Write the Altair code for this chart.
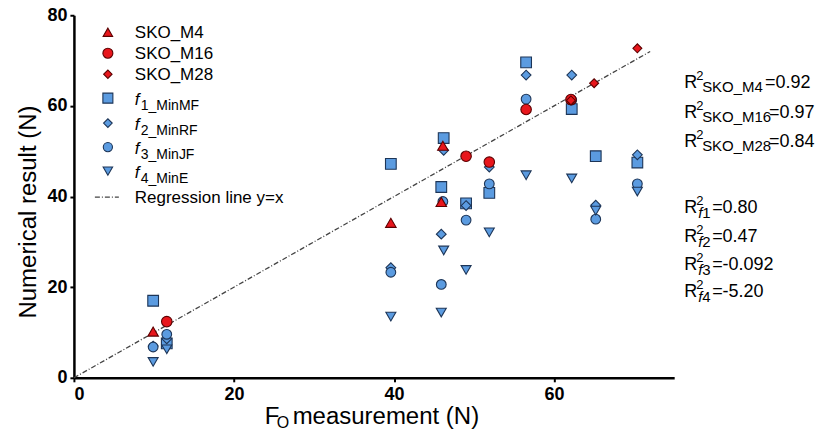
import altair as alt
import pandas as pd

# ---------------- data ----------------
sko_m4_x = [9.9, 39.6, 46.1, 45.9]
sko_m4_y = [10.2, 34.2, 51.2, 38.8]
sko_m16_x = [11.6, 49.0, 51.9, 56.5, 62.1]
sko_m16_y = [12.4, 48.9, 47.6, 59.2, 61.4]
sko_m28_x = [62.1, 65.0, 70.4]
sko_m28_y = [61.2, 65.0, 72.7]
f1_x = [9.9, 11.6, 39.6, 46.2, 45.9, 49.0, 51.9, 56.5, 62.2, 65.2, 70.4]
f1_y = [17.0, 7.6, 47.2, 52.9, 42.1, 38.5, 40.8, 69.6, 59.3, 48.9, 47.5]
f2_x = [9.9, 11.6, 39.6, 46.2, 45.9, 49.0, 51.9, 56.5, 62.2, 65.2, 70.4]
f2_y = [7.0, 8.6, 24.3, 50.2, 31.7, 38.0, 46.5, 66.8, 66.8, 38.1, 49.2]
f3_x = [9.9, 11.6, 39.6, 46.1, 45.9, 49.0, 51.9, 56.5, 62.2, 65.2, 70.4]
f3_y = [6.8, 9.6, 23.3, 38.9, 20.6, 34.8, 42.8, 61.5, 61.3, 35.0, 42.8]
f4_x = [9.9, 11.6, 39.6, 46.2, 45.9, 49.0, 51.9, 56.5, 62.2, 65.2, 70.4]
f4_y = [3.5, 6.3, 13.5, 28.1, 14.4, 23.8, 32.1, 44.7, 44.0, 36.9, 41.1]
reg_x = [0, 72]
x_ticks = [0, 20, 40, 60]
y_ticks = [0, 20, 40, 60, 80]

legend_names = ["SKO_M4", "SKO_M16", "SKO_M28"]
legend_f_main = ["f", "f", "f", "f"]
legend_f_sub = ["1_MinMF", "2_MinRF", "3_MinJF", "4_MinE"]
reg_label = "Regression line y=x"
r2_sko_sub = ["SKO_M4", "SKO_M16", "SKO_M28"]
r2_sko_val = ["=0.92", "=0.97", "=0.84"]
r2_f_sub = ["f1", "f2", "f3", "f4"]
r2_f_val = ["=0.80", "=0.47", "=-0.092", "=-5.20"]

# ---------------- styling ----------------
FONT = "Liberation Sans"
RED, RED_S = "#e8161c", "#5c0000"
BLUE, BLUE_S = "#5b9be0", "#1d3557"
PX, PY = 74, 15            # page position of the plot origin
W, H = 601, 363

xs = alt.Scale(domain=[0, 75], nice=False)
ys = alt.Scale(domain=[0, 80], nice=False)


def series(xv, yv, shape, fill, stroke, size):
    df = pd.DataFrame({"x": xv, "y": yv})
    return alt.Chart(df).mark_point(
        shape=shape, filled=True, fill=fill, stroke=stroke, strokeWidth=1.1,
        size=size, opacity=1, fillOpacity=1,
    ).encode(
        x=alt.X("x:Q", scale=xs, axis=alt.Axis(values=x_ticks, title=None)),
        y=alt.Y("y:Q", scale=ys, axis=alt.Axis(values=y_ticks, title=None)),
    )


def txt(s, px, py, size, italic=False, align="left", angle=0, baseline="alphabetic"):
    return alt.Chart(pd.DataFrame({"t": [s]})).mark_text(
        font=FONT, fontSize=size, fontStyle="italic" if italic else "normal",
        align=align, baseline=baseline, angle=angle, color="black",
    ).encode(x=alt.value(px - PX), y=alt.value(py - PY), text="t:N")


def sym(shape, fill, stroke, size, px, py):
    return alt.Chart(pd.DataFrame({"t": [0]})).mark_point(
        shape=shape, filled=True, fill=fill, stroke=stroke, strokeWidth=1.1,
        size=size, opacity=1,
    ).encode(x=alt.value(px - PX), y=alt.value(py - PY))


layers = []

# regression line y = x
reg = alt.Chart(pd.DataFrame({"x": reg_x, "y": reg_x})).mark_line(
    color="#444444", strokeWidth=1.3, strokeDash=[5, 2, 1, 2]
).encode(x=alt.X("x:Q", scale=xs), y=alt.Y("y:Q", scale=ys))
layers.append(reg)

layers.append(series(f1_x, f1_y, "square", BLUE, BLUE_S, 115))
layers.append(series(f2_x, f2_y, "diamond", BLUE, BLUE_S, 95))
layers.append(series(f3_x, f3_y, "circle", BLUE, BLUE_S, 95))
layers.append(series(f4_x, f4_y, "triangle-down", BLUE, BLUE_S, 100))
layers.append(series(sko_m4_x, sko_m4_y, "triangle-up", RED, RED_S, 110))
layers.append(series(sko_m16_x, sko_m16_y, "circle", RED, RED_S, 110))
layers.append(series(sko_m28_x, sko_m28_y, "diamond", RED, RED_S, 80))

# ---------------- custom legend ----------------
rows = [32, 53, 74, 98, 123, 147, 171, 197]
sym_x, lab_x = 108, 135
leg_shapes = [("triangle-up", RED, RED_S, 90), ("circle", RED, RED_S, 100),
              ("diamond", RED, RED_S, 70), ("square", BLUE, BLUE_S, 100),
              ("diamond", BLUE, BLUE_S, 75), ("circle", BLUE, BLUE_S, 85),
              ("triangle-down", BLUE, BLUE_S, 90)]
for i, (shp, fc, sc, sz) in enumerate(leg_shapes):
    layers.append(sym(shp, fc, sc, sz, sym_x, rows[i]))
for i, name in enumerate(legend_names):
    layers.append(txt(name, lab_x, rows[i] + 6, 17))
for j in range(4):
    r = rows[3 + j]
    layers.append(txt(legend_f_main[j], lab_x, r + 7, 17, italic=True))
    layers.append(txt(legend_f_sub[j], lab_x + 6, r + 12, 14))
layers.append(
    alt.Chart(pd.DataFrame({"t": [0]})).mark_rule(
        color="#444444", strokeWidth=1.3, strokeDash=[5, 2, 1, 2]
    ).encode(x=alt.value(95 - PX), x2=alt.value(119 - PX), y=alt.value(rows[7] - PY))
)
layers.append(txt(reg_label, lab_x, rows[7] + 6, 17))

# ---------------- R^2 annotations ----------------
sko_base = [88, 118, 147]
sko_val_x = [766, 770, 770]
for i in range(3):
    b = sko_base[i]
    layers.append(txt("R", 685, b, 18))
    layers.append(txt("2", 697, b - 8, 13))
    layers.append(txt(r2_sko_sub[i], 703, b + 4, 15))
    layers.append(txt(r2_sko_val[i], sko_val_x[i], b, 18))
f_base = [213, 242, 270, 297]
for i in range(4):
    b = f_base[i]
    layers.append(txt("R", 685, b, 18))
    layers.append(txt("2", 697, b - 8, 13))
    layers.append(txt(r2_f_sub[i][0], 699, b + 5, 15, italic=True))
    layers.append(txt(r2_f_sub[i][1:], 703, b + 5, 15))
    layers.append(txt(r2_f_val[i], 713, b, 18))

# ---------------- axis titles ----------------
layers.append(txt("Numerical result (N)", 36, 212, 24, align="center", angle=270))
layers.append(txt("F", 265, 424, 24))
layers.append(txt("O", 277, 428, 16))
layers.append(txt("measurement (N)", 293, 424, 24))

chart = alt.layer(*layers).properties(
    width=W, height=H,
    padding={"left": PX - 8, "top": PY - 8, "right": 141, "bottom": 52},
    autosize=alt.AutoSizeParams(type="none"),
).configure_view(stroke=None).configure_axis(
    grid=False, domainColor="black", domainWidth=2.5, tickColor="black",
    tickWidth=2, tickSize=4, labelFont=FONT, labelFontSize=18,
    labelFontWeight="bold", labelColor="black",
).configure_axisX(labelPadding=4).configure_axisY(labelPadding=3)

chart.save("out.html", embed_options={"renderer": "svg", "actions": False})
